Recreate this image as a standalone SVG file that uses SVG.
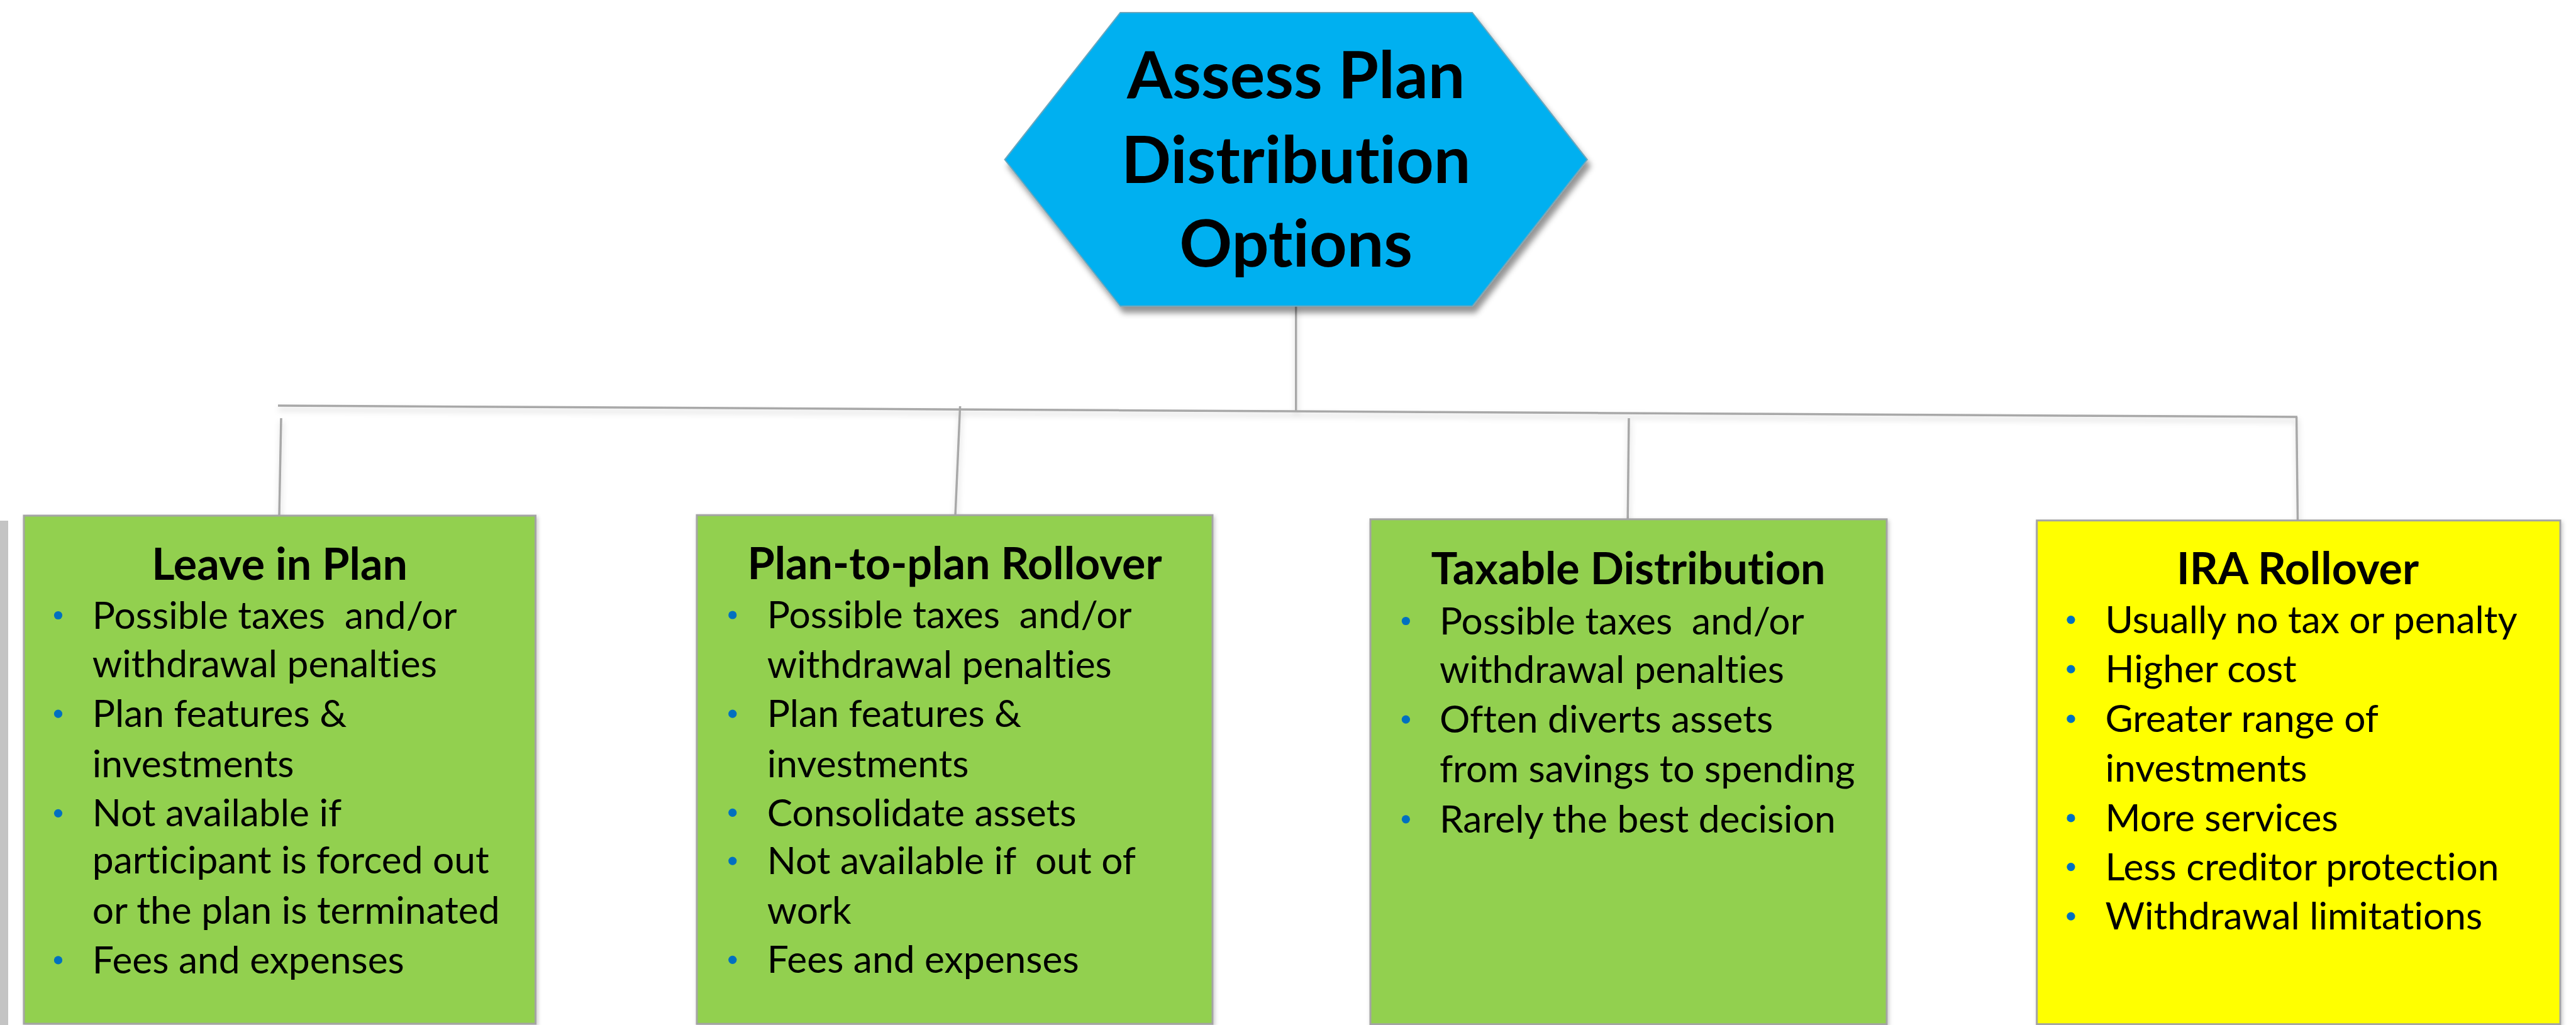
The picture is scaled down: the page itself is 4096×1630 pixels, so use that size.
<svg xmlns="http://www.w3.org/2000/svg" width="4096" height="1630" viewBox="0 0 4096 1630">
  <defs>
    <filter id="hexShadow" x="-10%" y="-10%" width="125%" height="130%">
      <feDropShadow dx="5" dy="10" stdDeviation="5" flood-color="#000" flood-opacity="0.42"/>
    </filter>
    <filter id="boxShadow" x="-5%" y="-5%" width="110%" height="110%">
      <feDropShadow dx="2" dy="3" stdDeviation="3" flood-color="#000" flood-opacity="0.22"/>
    </filter>
    <filter id="lineShadow" x="-5%" y="-50%" width="110%" height="300%">
      <feDropShadow dx="1" dy="6" stdDeviation="5" flood-color="#000" flood-opacity="0.18"/>
    </filter>
  </defs>
  <style>
    text { font-variant-ligatures: none; font-feature-settings: "liga" 0, "clig" 0; }
    .conn { stroke: #a8a8a8; stroke-width: 3.5; fill: none; stroke-linecap: butt; }
    .box { stroke: #a4a4a4; stroke-width: 3; filter: url(#boxShadow); }
    .green { fill: #92d050; }
    .yellow { fill: #ffff00; }
    .hdr { font-family: Lato, "Liberation Sans", sans-serif; font-weight: 700; font-size: 104px; fill: #000; text-anchor: middle; }
    .title { font-family: Lato, "Liberation Sans", sans-serif; font-weight: 700; font-size: 70px; fill: #000; text-anchor: middle; }
    .item { font-family: Lato, "Liberation Sans", sans-serif; font-size: 60.5px; fill: #000; }
    .dot { fill: #0070c0; }
  </style>

  <rect width="4096" height="1630" fill="#ffffff"/>

  <!-- strip at the left page edge -->
  <rect x="0" y="828" width="13" height="802" fill="#c4c4c4"/>

  <!-- connectors -->
  <g id="connectors" filter="url(#lineShadow)">
    <line class="conn" x1="2060.7" y1="486" x2="2060.7" y2="654"/>
    <line class="conn" x1="442" y1="645" x2="3653" y2="663"/>
    <line class="conn" x1="447" y1="665" x2="444" y2="820"/>
    <line class="conn" x1="1526.6" y1="646" x2="1519" y2="820"/>
    <line class="conn" x1="2590" y1="665" x2="2588.2" y2="826"/>
    <line class="conn" x1="3651.6" y1="663" x2="3653.5" y2="828"/>
  </g>

  <!-- root hexagon -->
  <g id="root">
    <polygon points="1781.3,20 2341,20 2523.8,253.8 2341,486.8 1781.3,486.8 1597.6,253.8" fill="#00b0f0" stroke="#6aa6bd" stroke-width="2" filter="url(#hexShadow)"/>
    <text class="hdr" x="2060.7" y="156">Assess Plan</text>
    <text class="hdr" x="2060.7" y="290.5">Distribution</text>
    <text class="hdr" x="2060.7" y="424">Options</text>
  </g>

  <!-- option 1 -->
  <g id="leave-in-plan">
    <rect class="box green" x="38" y="820" width="813.5" height="808"/>
    <text class="title" x="444.6" y="922.4">Leave in Plan</text>
    <circle class="dot" cx="92.5" cy="978.5" r="6.6"/>
    <circle class="dot" cx="92.5" cy="1135.2" r="6.6"/>
    <circle class="dot" cx="92.5" cy="1293.3" r="6.6"/>
    <circle class="dot" cx="92.5" cy="1526.9" r="6.6"/>
    <text class="item" xml:space="preserve" x="146.8" y="999.6">Possible taxes  and/or</text>
    <text class="item" x="146.8" y="1077.2">withdrawal penalties</text>
    <text class="item" x="146.8" y="1156.3">Plan features &amp;</text>
    <text class="item" x="146.8" y="1235.8">investments</text>
    <text class="item" x="146.8" y="1314.4">Not available if</text>
    <text class="item" x="146.8" y="1389.2">participant is forced out</text>
    <text class="item" x="146.8" y="1468.8">or the plan is terminated</text>
    <text class="item" x="146.8" y="1548">Fees and expenses</text>
  </g>

  <!-- option 2 -->
  <g id="plan-to-plan">
    <rect class="box green" x="1108" y="819.2" width="820" height="809"/>
    <text class="title" x="1518" y="921.4">Plan-to-plan Rollover</text>
    <circle class="dot" cx="1164.8" cy="978" r="6.6"/>
    <circle class="dot" cx="1164.8" cy="1135.2" r="6.6"/>
    <circle class="dot" cx="1164.8" cy="1292.4" r="6.6"/>
    <circle class="dot" cx="1164.8" cy="1369.1" r="6.6"/>
    <circle class="dot" cx="1164.8" cy="1526.3" r="6.6"/>
    <text class="item" xml:space="preserve" x="1219.7" y="999.1">Possible taxes  and/or</text>
    <text class="item" x="1219.7" y="1077.7">withdrawal penalties</text>
    <text class="item" x="1219.7" y="1156.3">Plan features &amp;</text>
    <text class="item" x="1219.7" y="1235.8">investments</text>
    <text class="item" x="1219.7" y="1313.5">Consolidate assets</text>
    <text class="item" xml:space="preserve" x="1219.7" y="1390.2">Not available if  out of</text>
    <text class="item" x="1219.7" y="1468.8">work</text>
    <text class="item" x="1219.7" y="1547.4">Fees and expenses</text>
  </g>

  <!-- option 3 -->
  <g id="taxable-distribution">
    <rect class="box green" x="2179" y="825.8" width="821" height="803"/>
    <text class="title" x="2589" y="928.5">Taxable Distribution</text>
    <circle class="dot" cx="2235.4" cy="987.5" r="6.6"/>
    <circle class="dot" cx="2235.4" cy="1144.2" r="6.6"/>
    <circle class="dot" cx="2235.4" cy="1302.8" r="6.6"/>
    <text class="item" xml:space="preserve" x="2288.9" y="1008.6">Possible taxes  and/or</text>
    <text class="item" x="2288.9" y="1086.2">withdrawal penalties</text>
    <text class="item" x="2288.9" y="1165.3">Often diverts assets</text>
    <text class="item" x="2288.9" y="1244.4">from savings to spending</text>
    <text class="item" x="2288.9" y="1323.9">Rarely the best decision</text>
  </g>

  <!-- option 4 -->
  <g id="ira-rollover">
    <rect class="box yellow" x="3238.7" y="827.7" width="832.3" height="801"/>
    <text class="title" x="3653.5" y="928.5">IRA Rollover</text>
    <circle class="dot" cx="3292.9" cy="985.6" r="6.6"/>
    <circle class="dot" cx="3292.9" cy="1064.2" r="6.6"/>
    <circle class="dot" cx="3292.9" cy="1143.2" r="6.6"/>
    <circle class="dot" cx="3292.9" cy="1300.9" r="6.6"/>
    <circle class="dot" cx="3292.9" cy="1378.6" r="6.6"/>
    <circle class="dot" cx="3292.9" cy="1457.2" r="6.6"/>
    <text class="item" x="3347.6" y="1006.7">Usually no tax or penalty</text>
    <text class="item" x="3347.6" y="1085.3">Higher cost</text>
    <text class="item" x="3347.6" y="1164.3">Greater range of</text>
    <text class="item" x="3347.6" y="1242.5">investments</text>
    <text class="item" x="3347.6" y="1322">More services</text>
    <text class="item" x="3347.6" y="1399.7">Less creditor protection</text>
    <text class="item" x="3347.6" y="1478.3">Withdrawal limitations</text>
  </g>
</svg>
